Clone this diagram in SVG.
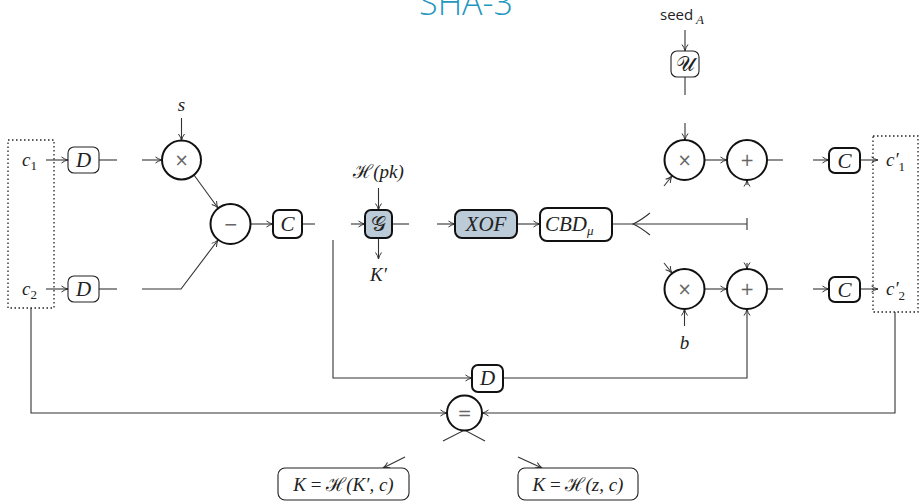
<svg xmlns="http://www.w3.org/2000/svg" width="921" height="501" viewBox="0 0 921 501">
<style>
.ln{fill:none;stroke:#333;stroke-width:1.1}
.ar{fill:none;stroke:#333;stroke-width:1.1;marker-end:url(#a)}
.thick{fill:#fff;stroke:#111;stroke-width:2}
.thin{fill:#fff;stroke:#222;stroke-width:1.1}
.fill{fill:#bccbd8;stroke:#111;stroke-width:2}
.dot{fill:none;stroke:#222;stroke-width:1.3;stroke-dasharray:1.5 2.5}
.m{font-family:"Liberation Serif","DejaVu Serif",serif;font-style:italic;font-size:19px;fill:#222}
.bx{font-size:21px}
.op{font-family:"DejaVu Sans","Liberation Sans",sans-serif;font-size:17px;fill:#666;text-anchor:middle}
.sub{font-size:13px}
.up{font-style:normal}
</style>
<defs>
<marker id="a" viewBox="0 0 8 8" refX="7.5" refY="4" markerWidth="8" markerHeight="8" orient="auto" markerUnits="userSpaceOnUse">
<path d="M1,1 Q4,3.3 7.5,4 Q4,4.7 1,7" fill="none" stroke="#333" stroke-width="1"/>
</marker>
</defs>

<text x="466" y="15" font-family="Open Sans, Lato, sans-serif" font-weight="300" font-size="34" fill="#2596be" text-anchor="middle">SHA-3</text>

<g id="connectors">
  <line class="ar" x1="46" y1="160" x2="68" y2="160"/>
  <line class="ln" x1="99" y1="160" x2="117" y2="160"/>
  <line class="ar" x1="142" y1="160" x2="162" y2="160"/>
  <line class="ar" x1="181.5" y1="118" x2="181.5" y2="140.5"/>
  <line class="ar" x1="194" y1="175" x2="218" y2="208"/>
  <line class="ar" x1="46" y1="289" x2="68" y2="289"/>
  <line class="ln" x1="99" y1="289" x2="117" y2="289"/>
  <polyline class="ar" points="142,289 181,289 218,240"/>
  <line class="ar" x1="250.5" y1="224" x2="273" y2="224"/>
  <line class="ln" x1="302" y1="224" x2="315" y2="224"/>
  <line class="ar" x1="351" y1="224" x2="365" y2="224"/>
  <line class="ar" x1="378.5" y1="188" x2="378.5" y2="210"/>
  <line class="ar" x1="378.5" y1="238" x2="378.5" y2="259"/>
  <line class="ln" x1="392" y1="224" x2="409" y2="224"/>
  <line class="ar" x1="437" y1="224" x2="455" y2="224"/>
  <line class="ar" x1="517" y1="224" x2="540" y2="224"/>
  <line class="ln" x1="612" y1="224" x2="747" y2="224"/>
  <line class="ln" x1="747" y1="218" x2="747" y2="230"/>
  <path class="ln" d="M650,213 Q640,221 633,224 Q640,227 650,235"/>
  <polyline class="ar" points="333,240 333,378 472,378"/>
  <polyline class="ar" points="503,378 747,378 747,309"/>
  <line class="ar" x1="685" y1="30" x2="685" y2="51"/>
  <line class="ln" x1="685" y1="77" x2="685" y2="95"/>
  <line class="ar" x1="685" y1="123" x2="685" y2="140"/>
  <line class="ar" x1="664" y1="186" x2="672" y2="176"/>
  <line class="ar" x1="705" y1="160" x2="727" y2="160"/>
  <line class="ar" x1="747" y1="185" x2="747" y2="180"/>
  <line class="ln" x1="767" y1="160" x2="783" y2="160"/>
  <line class="ar" x1="813" y1="160" x2="829" y2="160"/>
  <line class="ar" x1="860" y1="160" x2="878" y2="160"/>
  <line class="ar" x1="664" y1="263" x2="672" y2="273"/>
  <line class="ar" x1="705" y1="289" x2="727" y2="289"/>
  <line class="ar" x1="747" y1="263" x2="747" y2="269"/>
  <line class="ar" x1="684.5" y1="326" x2="684.5" y2="309"/>
  <line class="ln" x1="767" y1="289" x2="783" y2="289"/>
  <line class="ar" x1="813" y1="289" x2="829" y2="289"/>
  <line class="ar" x1="860" y1="289" x2="878" y2="289"/>
  <polyline class="ar" points="31,308 31,413 447,413"/>
  <polyline class="ar" points="895,312 895,413 482,413"/>
  <polyline class="ln" points="443,441 464.5,430 485,441"/>
  <line class="ar" x1="405" y1="457" x2="383" y2="468"/>
  <line class="ar" x1="518" y1="457" x2="542" y2="468"/>
</g>

<g id="in1"><rect class="dot" x="8" y="140" width="46" height="168"/>
  <text class="m" x="22" y="166">c<tspan class="sub up" dy="4">1</tspan></text>
  <text class="m" x="22" y="295">c<tspan class="sub up" dy="4">2</tspan></text>
</g>
<g id="d1"><rect class="thin" x="68" y="147" width="31" height="26" rx="6"/><text class="m bx" x="83.5" y="167" text-anchor="middle">D</text></g>
<g id="d2"><rect class="thin" x="68" y="276" width="31" height="26" rx="6"/><text class="m bx" x="83.5" y="296" text-anchor="middle">D</text></g>
<g id="s"><text class="m" x="181.5" y="111" text-anchor="middle">s</text></g>
<g id="mul1"><circle class="thick" cx="181.5" cy="160" r="19.5"/><text class="op" x="181.5" y="166">×</text></g>
<g id="sub"><circle class="thick" cx="230.5" cy="224" r="20"/><text class="op" x="230.5" y="230">−</text></g>
<g id="c0"><rect class="thick" x="273" y="210" width="29" height="28" rx="6"/><text class="m bx" x="287.5" y="231" text-anchor="middle">C</text></g>
<g id="hpk"><text class="m" x="378.5" y="178" text-anchor="middle"><tspan class="up">ℋ</tspan>(pk)</text></g>
<g id="g"><rect class="fill" x="365" y="210" width="27" height="28" rx="6"/><text class="m bx up" x="378.5" y="231" text-anchor="middle">𝒢</text></g>
<g id="kp"><text class="m" x="378.5" y="281" text-anchor="middle">K′</text></g>
<g id="xof"><rect class="fill" x="455" y="210" width="62" height="28" rx="7"/><text class="m bx" x="486" y="231" text-anchor="middle">XOF</text></g>
<g id="cbd"><rect class="thick" x="540" y="208" width="72" height="33" rx="7"/><text class="m bx" x="545" y="231">CBD<tspan class="sub" dy="4">μ</tspan></text></g>
<g id="seed"><text x="660" y="20" font-family="Open Sans, Lato, sans-serif" font-size="15" fill="#222">seed</text><text class="m sub" x="696" y="24">A</text></g>
<g id="u"><rect class="thin" x="671" y="51" width="28" height="26" rx="6"/><text class="m bx up" x="685" y="71" text-anchor="middle">𝒰</text></g>
<g id="mul2"><circle class="thick" cx="684.5" cy="160" r="20"/><text class="op" x="684.5" y="166">×</text></g>
<g id="add1"><circle class="thick" cx="747" cy="160" r="20"/><text class="op" x="747" y="166">+</text></g>
<g id="c1"><rect class="thick" x="829" y="148" width="31" height="25" rx="6"/><text class="m bx" x="844.5" y="168" text-anchor="middle">C</text></g>
<g id="mul3"><circle class="thick" cx="684.5" cy="289" r="20"/><text class="op" x="684.5" y="295">×</text></g>
<g id="add2"><circle class="thick" cx="747" cy="289" r="20"/><text class="op" x="747" y="295">+</text></g>
<g id="c2"><rect class="thick" x="829" y="277" width="31" height="25" rx="6"/><text class="m bx" x="844.5" y="297" text-anchor="middle">C</text></g>
<g id="b"><text class="m" x="684.5" y="349" text-anchor="middle">b</text></g>
<g id="out"><rect class="dot" x="873" y="136" width="45" height="176"/>
  <text class="m" x="886" y="166">c′<tspan class="sub up" dy="5">1</tspan></text>
  <text class="m" x="886" y="295">c′<tspan class="sub up" dy="5">2</tspan></text>
</g>
<g id="d3"><rect class="thick" x="472" y="365" width="31" height="27" rx="6"/><text class="m bx" x="487.5" y="385" text-anchor="middle">D</text></g>
<g id="eq"><circle class="thick" cx="464.5" cy="413" r="17.5"/><text class="op" x="464.5" y="419">=</text></g>
<g id="k1"><rect class="thin" x="278" y="468" width="131" height="32" rx="7"/><text class="m" x="343.5" y="491" font-size="20" text-anchor="middle">K <tspan class="up">=</tspan> <tspan class="up">ℋ</tspan>(K′, c)</text></g>
<g id="k2"><rect class="thin" x="518" y="468" width="120" height="32" rx="7"/><text class="m" x="578" y="491" font-size="20" text-anchor="middle">K <tspan class="up">=</tspan> <tspan class="up">ℋ</tspan>(z, c)</text></g>
</svg>
